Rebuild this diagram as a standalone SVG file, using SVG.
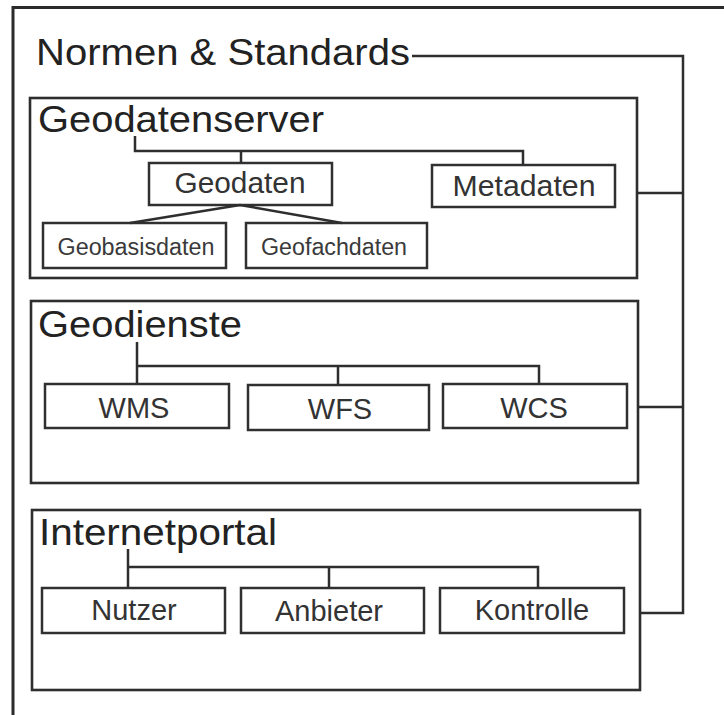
<svg xmlns="http://www.w3.org/2000/svg" width="724" height="715" viewBox="0 0 724 715">
<style>
  .frame{fill:none;stroke:#2b2b2b;stroke-width:3}
  .box{fill:#fff;stroke:#2e2e2e;stroke-width:2.6}
  .item{fill:#fff;stroke:#303030;stroke-width:2.5}
  .con{fill:none;stroke:#2e2e2e;stroke-width:2.5}
  .h{font-family:"Liberation Sans",Arial,sans-serif;font-size:37px;fill:#222}
  .t{font-family:"Liberation Sans",Arial,sans-serif;font-size:29px;fill:#333;text-anchor:middle}
  .s{font-family:"Liberation Sans",Arial,sans-serif;font-size:23px;fill:#3a3a3a;text-anchor:middle}
</style>
<rect width="724" height="715" fill="#fff"/>
<path class="frame" d="M13,715 V7.5 H724"/>

<g id="normen">
  <text class="h" x="36" y="65" textLength="374" lengthAdjust="spacingAndGlyphs">Normen &amp; Standards</text>
</g>

<g id="geodatenserver">
  <rect class="box" x="30" y="98" width="607" height="180"/>
  <text class="h" x="38" y="132" textLength="286" lengthAdjust="spacingAndGlyphs">Geodatenserver</text>
</g>
<g id="geodaten">
  <rect class="item" x="149" y="163" width="183" height="42"/>
  <text class="t" x="240" y="193" textLength="131" lengthAdjust="spacingAndGlyphs">Geodaten</text>
</g>
<g id="metadaten">
  <rect class="item" x="432" y="165" width="183" height="42"/>
  <text class="t" x="524" y="196" textLength="143" lengthAdjust="spacingAndGlyphs">Metadaten</text>
</g>
<g id="geobasisdaten">
  <rect class="item" x="43" y="223" width="183" height="45"/>
  <text class="s" x="136" y="255" textLength="157" lengthAdjust="spacingAndGlyphs">Geobasisdaten</text>
</g>
<g id="geofachdaten">
  <rect class="item" x="246" y="223" width="181" height="45"/>
  <text class="s" x="334" y="255" textLength="146" lengthAdjust="spacingAndGlyphs">Geofachdaten</text>
</g>

<g id="geodienste">
  <rect class="box" x="31" y="301" width="607" height="182"/>
  <text class="h" x="38" y="337" textLength="204" lengthAdjust="spacingAndGlyphs">Geodienste</text>
</g>
<g id="wms">
  <rect class="item" x="45" y="384" width="184" height="44"/>
  <text class="t" x="134" y="418">WMS</text>
</g>
<g id="wfs">
  <rect class="item" x="248" y="385" width="181" height="45"/>
  <text class="t" x="340" y="419">WFS</text>
</g>
<g id="wcs">
  <rect class="item" x="443" y="384" width="184" height="44"/>
  <text class="t" x="534" y="418">WCS</text>
</g>

<g id="internetportal">
  <rect class="box" x="32" y="510" width="608" height="180"/>
  <text class="h" x="39" y="545" textLength="238" lengthAdjust="spacingAndGlyphs">Internetportal</text>
</g>
<g id="nutzer">
  <rect class="item" x="42" y="588" width="183" height="45"/>
  <text class="t" x="134" y="620">Nutzer</text>
</g>
<g id="anbieter">
  <rect class="item" x="241" y="588" width="183" height="45"/>
  <text class="t" x="329" y="621">Anbieter</text>
</g>
<g id="kontrolle">
  <rect class="item" x="440" y="588" width="184" height="45"/>
  <text class="t" x="532" y="620">Kontrolle</text>
</g>

<g id="connectors">
  <path class="con" d="M412,56 H683 V613 H640"/>
  <path class="con" d="M637,193 H683"/>
  <path class="con" d="M638,407 H683"/>
  <path class="con" d="M135,136 V151 H523 V165 M241,151 V163"/>
  <path class="con" d="M240,205 L130,223 M240,205 L342,223"/>
  <path class="con" d="M137,342 V384 M137,366 H539 V384 M338,366 V385"/>
  <path class="con" d="M128,549 V588 M128,567 H538 V588 M329,567 V588"/>
</g>
</svg>
